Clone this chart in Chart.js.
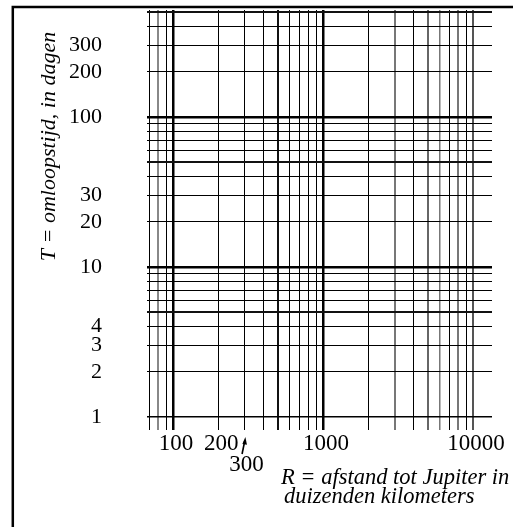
<!DOCTYPE html>
<html>
<head>
<meta charset="utf-8">
<title>Omloopstijd tegen afstand</title>
<style>
  html, body { margin: 0; padding: 0; background: #fff; }
  #wrap { position: relative; width: 513px; height: 527px; }
  canvas { display: block; }
</style>
<script src="https://cdn.jsdelivr.net/npm/chart.js@4"></script>
</head>
<body>
<div id="wrap"><canvas id="chart" width="513" height="527"></canvas></div>
<script>
// Grid values of the log-log paper (R in thousands of km, T in days)
const radiusGrid = [70, 80, 90, 100, 200, 300, 400, 500, 600, 700, 800, 900,
                    1000, 2000, 3000, 4000, 5000, 6000, 7000, 8000, 9000, 10000];
const periodGrid = [1, 2, 3, 4, 5, 6, 7, 8, 9, 10, 20, 30, 40, 50, 60, 70, 80, 90,
                    100, 200, 300, 400, 500];

// Values that carry a printed label
const radiusLabels = [100, 200, 1000, 10000];
const radiusArrowLabel = 300;
const periodLabels = [1, 2, 3, 4, 10, 20, 30, 100, 200, 300];

const yTitle = 'T = omloopstijd, in dagen';
const xTitleLines = ['R = afstand tot Jupiter in', 'duizenden kilometers'];

const SERIF = "'Liberation Serif', 'Times New Roman', Times, serif";

// Line weights / tones of the printed grid
const xLineStyle = {
  80: ['#888', 2], 100: ['#000', 2.5], 500: ['#111', 2], 1000: ['#000', 2.5],
  3000: ['#777', 2], 5000: ['#666', 2], 6000: ['#777', 1.5], 8000: ['#777', 2],
  10000: ['#555', 2]
};
const yLineStyle = {
  1: ['#000', 1.5], 5: ['#111', 2], 10: ['#000', 2.5], 50: ['#111', 2],
  100: ['#000', 2.5], 500: ['#111', 2]
};
const styleOf = (map, v, i) => (map[v] || ['#000', 1])[i];

const paperDecorations = {
  id: 'paperDecorations',
  afterDraw(chart) {
    const ctx = chart.ctx;
    const xs = chart.scales.x;
    ctx.save();

    // frame around the figure
    ctx.strokeStyle = '#000';
    ctx.lineWidth = 2.5;
    ctx.beginPath();
    ctx.moveTo(12.8, 600);
    ctx.lineTo(12.8, 7);
    ctx.lineTo(600, 7);
    ctx.stroke();

    ctx.fillStyle = '#000';

    // vertical axis title
    ctx.font = 'italic 22px ' + SERIF;
    ctx.save();
    ctx.translate(55, 146.5);
    ctx.rotate(-Math.PI / 2);
    ctx.textAlign = 'center';
    ctx.textBaseline = 'alphabetic';
    ctx.fillText(yTitle, 0, 0);
    ctx.restore();

    // horizontal axis title, two lines
    ctx.font = 'italic 22.5px ' + SERIF;
    ctx.textAlign = 'left';
    ctx.textBaseline = 'alphabetic';
    ctx.fillText(xTitleLines[0], 281, 484);
    ctx.fillText(xTitleLines[1], 284, 503);

    // lowered label with arrow pointing up to its grid line
    const px = xs.getPixelForValue(radiusArrowLabel);
    ctx.font = '23px ' + SERIF;
    ctx.textAlign = 'center';
    ctx.textBaseline = 'middle';
    ctx.fillText(String(radiusArrowLabel), px + 2, 465);

    ctx.strokeStyle = '#000';
    ctx.lineWidth = 1.6;
    ctx.beginPath();
    ctx.moveTo(px - 2.5, 454);
    ctx.lineTo(px + 0.2, 441);
    ctx.stroke();
    ctx.beginPath();
    ctx.moveTo(px + 0.8, 437);
    ctx.lineTo(px - 2.2, 444);
    ctx.lineTo(px + 2.4, 444.8);
    ctx.closePath();
    ctx.fill();

    ctx.restore();
  }
};

new Chart(document.getElementById('chart'), {
  type: 'scatter',
  data: { datasets: [] },
  plugins: [paperDecorations],
  options: {
    responsive: false,
    animation: false,
    devicePixelRatio: 1,
    layout: { padding: { left: 0, right: 21, top: 10, bottom: 0 } },
    plugins: { legend: { display: false }, tooltip: { enabled: false } },
    scales: {
      x: {
        type: 'logarithmic',
        position: 'bottom',
        min: 67.1,
        max: 13390,
        afterBuildTicks(scale) {
          scale.ticks = radiusGrid.map(v => ({ value: v }));
        },
        afterFit(scale) {
          scale.height = 97;
          scale.paddingLeft = 0;
          scale.paddingRight = 0;
        },
        border: { display: false },
        grid: {
          drawTicks: false,
          color: c => styleOf(xLineStyle, c.tick && c.tick.value, 0),
          lineWidth: c => styleOf(xLineStyle, c.tick && c.tick.value, 1)
        },
        ticks: {
          autoSkip: false,
          maxRotation: 0,
          minRotation: 0,
          padding: 0,
          labelOffset: 3,
          color: '#000',
          font: { family: SERIF, size: 23 },
          callback: v => radiusLabels.includes(v) ? String(v) : ''
        }
      },
      y: {
        type: 'logarithmic',
        position: 'left',
        min: 0.819,
        max: 516.6,
        afterBuildTicks(scale) {
          scale.ticks = periodGrid.map(v => ({ value: v }));
        },
        afterFit(scale) {
          scale.width = 147;
          scale.paddingTop = 0;
          scale.paddingBottom = 0;
        },
        border: { display: false },
        grid: {
          drawTicks: true,
          tickLength: 45,
          tickColor: 'rgba(0,0,0,0)',
          color: c => styleOf(yLineStyle, c.tick && c.tick.value, 0),
          lineWidth: c => styleOf(yLineStyle, c.tick && c.tick.value, 1)
        },
        ticks: {
          autoSkip: false,
          padding: 0,
          color: '#000',
          font: { family: SERIF, size: 22 },
          callback: v => periodLabels.includes(v) ? String(v) : ''
        }
      }
    }
  }
});
</script>
</body>
</html>
